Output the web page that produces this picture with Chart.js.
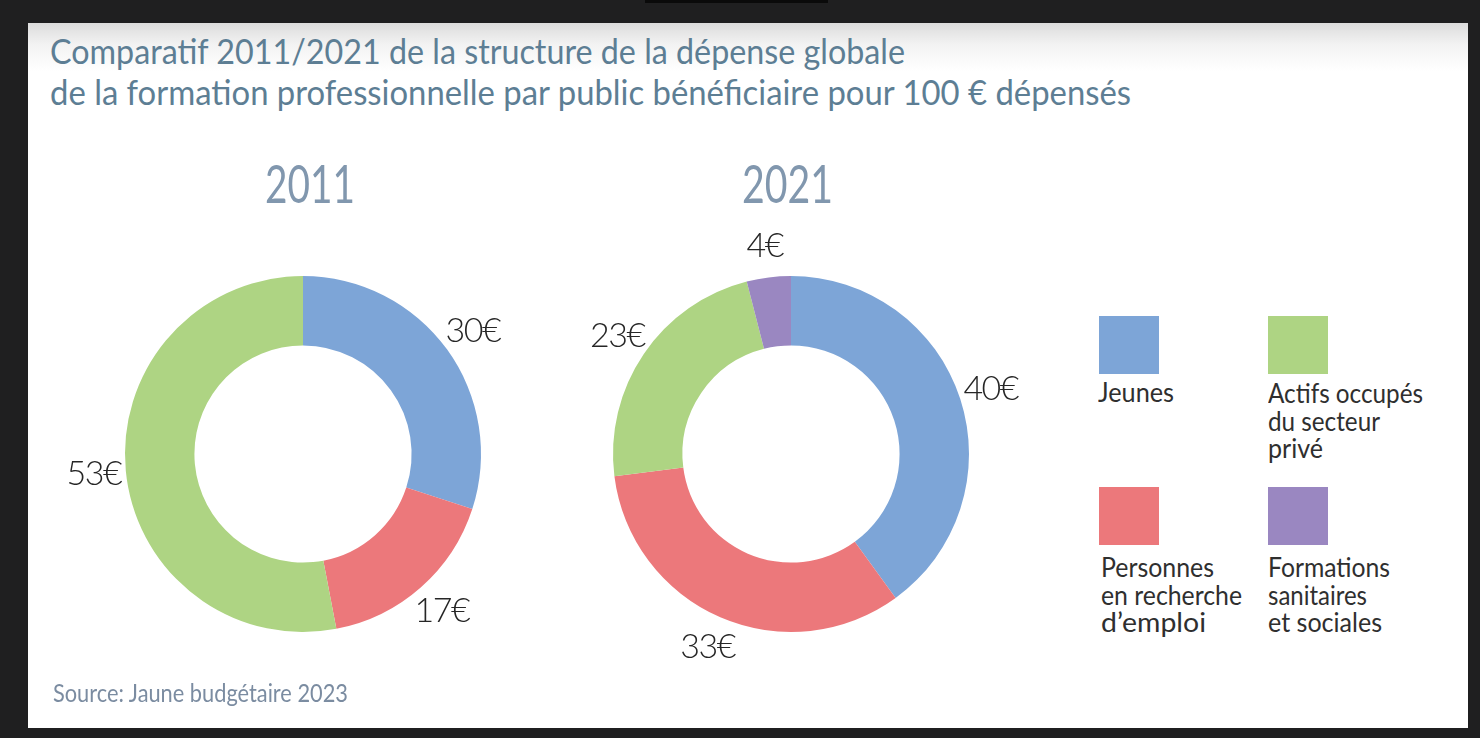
<!DOCTYPE html>
<html><head><meta charset="utf-8">
<script src="https://cdn.jsdelivr.net/npm/chart.js@4.4.1/dist/chart.umd.min.js"></script>
<style>
html,body{margin:0;padding:0;width:1480px;height:738px;overflow:hidden;background:#1f1f20;}
#card{position:absolute;left:28px;top:23px;width:1440px;height:705px;background:linear-gradient(#dcdcdc 0px,#f3f3f3 22px,#ffffff 48px);}
.t{position:absolute;white-space:nowrap;line-height:1;transform-origin:0 0;font-family:Lato,'Open Sans',sans-serif;}
canvas{position:absolute;}
.sw{position:absolute;width:60px;height:58px;}
</style></head><body>
<div style="position:absolute;left:645px;top:0;width:183px;height:3px;background:#0a0a0a"></div>
<div id="card"></div>
<canvas id="c1" width="560" height="520" style="left:23px;top:194px"></canvas>
<canvas id="c2" width="560" height="520" style="left:511px;top:194px"></canvas>
<script>
// ---- data ----
const categories = ['Jeunes', 'Personnes en recherche d’emploi', 'Actifs occupés du secteur privé', 'Formations sanitaires et sociales'];
const values2011 = [30, 17, 53, 0];
const values2021 = [40, 33, 23, 4];
const years = ['2011', '2021'];
const seriesColors = ['#7DA5D7', '#EC787B', '#AED483', '#9A87C1'];
const legendOrder = [0, 2, 1, 3];
const legendLines = [['Jeunes'], ['Personnes', 'en recherche', 'd’emploi'], ['Actifs occupés', 'du secteur', 'privé'], ['Formations', 'sanitaires', 'et sociales']];
const titleLines = ['Comparatif 2011/2021 de la structure de la dépense globale', 'de la formation professionnelle par public bénéficiaire pour 100 € dépensés'];
const sourceText = 'Source: Jaune budgétaire 2023';
const unit = '€';

function addText(str, o) {
  const el = document.createElement('div');
  el.className = 't';
  el.textContent = str;
  el.style.fontSize = o.size + 'px';
  el.style.color = o.color;
  el.style.fontWeight = o.weight || 400;
  const m = document.createElement('span');
  m.style.cssText = 'display:inline-block;width:0;height:0;vertical-align:baseline';
  el.appendChild(m);
  document.body.appendChild(el);
  const natural = el.getBoundingClientRect().width;
  const sx = o.width ? o.width / natural : (o.sx || 1);
  const w = natural * sx;
  const base = m.offsetTop;
  el.style.transform = 'scaleX(' + sx + ')';
  const left = o.align === 'center' ? o.x - w / 2 : o.x;
  el.style.left = left + 'px';
  el.style.top = (o.baseline - base) + 'px';
}

function build() {
  addText(titleLines[0], {x: 50, baseline: 64, size: 35, color: '#5d7e94', width: 855});
  addText(titleLines[1], {x: 50, baseline: 105, size: 35, color: '#5d7e94', width: 1081});
  addText(years[0], {x: 310, baseline: 203, size: 53, color: '#8197ae', width: 90, align: 'center'});
  addText(years[1], {x: 787, baseline: 203, size: 53, color: '#8197ae', width: 91, align: 'center'});
  addText(sourceText, {x: 53, baseline: 702, size: 25, color: '#7b8ca1', width: 295});

  const swPos = [[1099, 316], [1099, 487], [1268, 316], [1268, 487]];
  const txtBase = [[1098, 402], [1101, 577], [1268, 403], [1268, 577]];
  const widths = [[76], [113, 141, 105], [155, 112, 55], [122, 99, 114]];
  legendOrder.forEach(function (ci) {
    const sw = document.createElement('div');
    sw.className = 'sw';
    sw.style.left = swPos[ci][0] + 'px';
    sw.style.top = swPos[ci][1] + 'px';
    sw.style.background = seriesColors[ci];
    document.body.appendChild(sw);
    legendLines[ci].forEach(function (line, k) {
      addText(line, {x: txtBase[ci][0], baseline: txtBase[ci][1] + k * 27.5, size: 26, color: '#2f2f2f', width: widths[ci][k]});
    });
  });

  const valueLabels = {
    id: 'valueLabels',
    afterDatasetsDraw(chart) {
      const ctx = chart.ctx;
      const meta = chart.getDatasetMeta(0);
      const data = chart.data.datasets[0].data;
      ctx.save();
      ctx.font = '300 34px Lato';
      ctx.fillStyle = '#262626';
      ctx.textAlign = 'center';
      ctx.textBaseline = 'middle';
      if ('letterSpacing' in ctx) ctx.letterSpacing = '-1.5px';
      meta.data.forEach(function (arc, i) {
        const v = data[i];
        if (!v) return;
        const p = arc.getProps(['x', 'y', 'startAngle', 'endAngle', 'outerRadius']);
        const mid = (p.startAngle + p.endAngle) / 2;
        const r = p.outerRadius + 32;
        ctx.fillText(v + unit, p.x + Math.cos(mid) * r, p.y + Math.sin(mid) * r);
      });
      ctx.restore();
    }
  };

  function donut(id, vals) {
    return new Chart(document.getElementById(id), {
      type: 'doughnut',
      data: {
        labels: categories,
        datasets: [{data: vals, backgroundColor: seriesColors, borderWidth: 0}]
      },
      options: {
        responsive: false,
        animation: false,
        events: [],
        cutout: '61%',
        layout: {padding: {left: 102, right: 102, top: 82, bottom: 82}},
        plugins: {legend: {display: false}, tooltip: {enabled: false}}
      },
      plugins: [valueLabels]
    });
  }
  donut('c1', values2011);
  donut('c2', values2021);
}
if (document.fonts && document.fonts.load) {
  Promise.all([document.fonts.load('35px Lato'), document.fonts.load('300 34px Lato')]).then(build, build);
} else { build(); }
</script>
</body></html>
